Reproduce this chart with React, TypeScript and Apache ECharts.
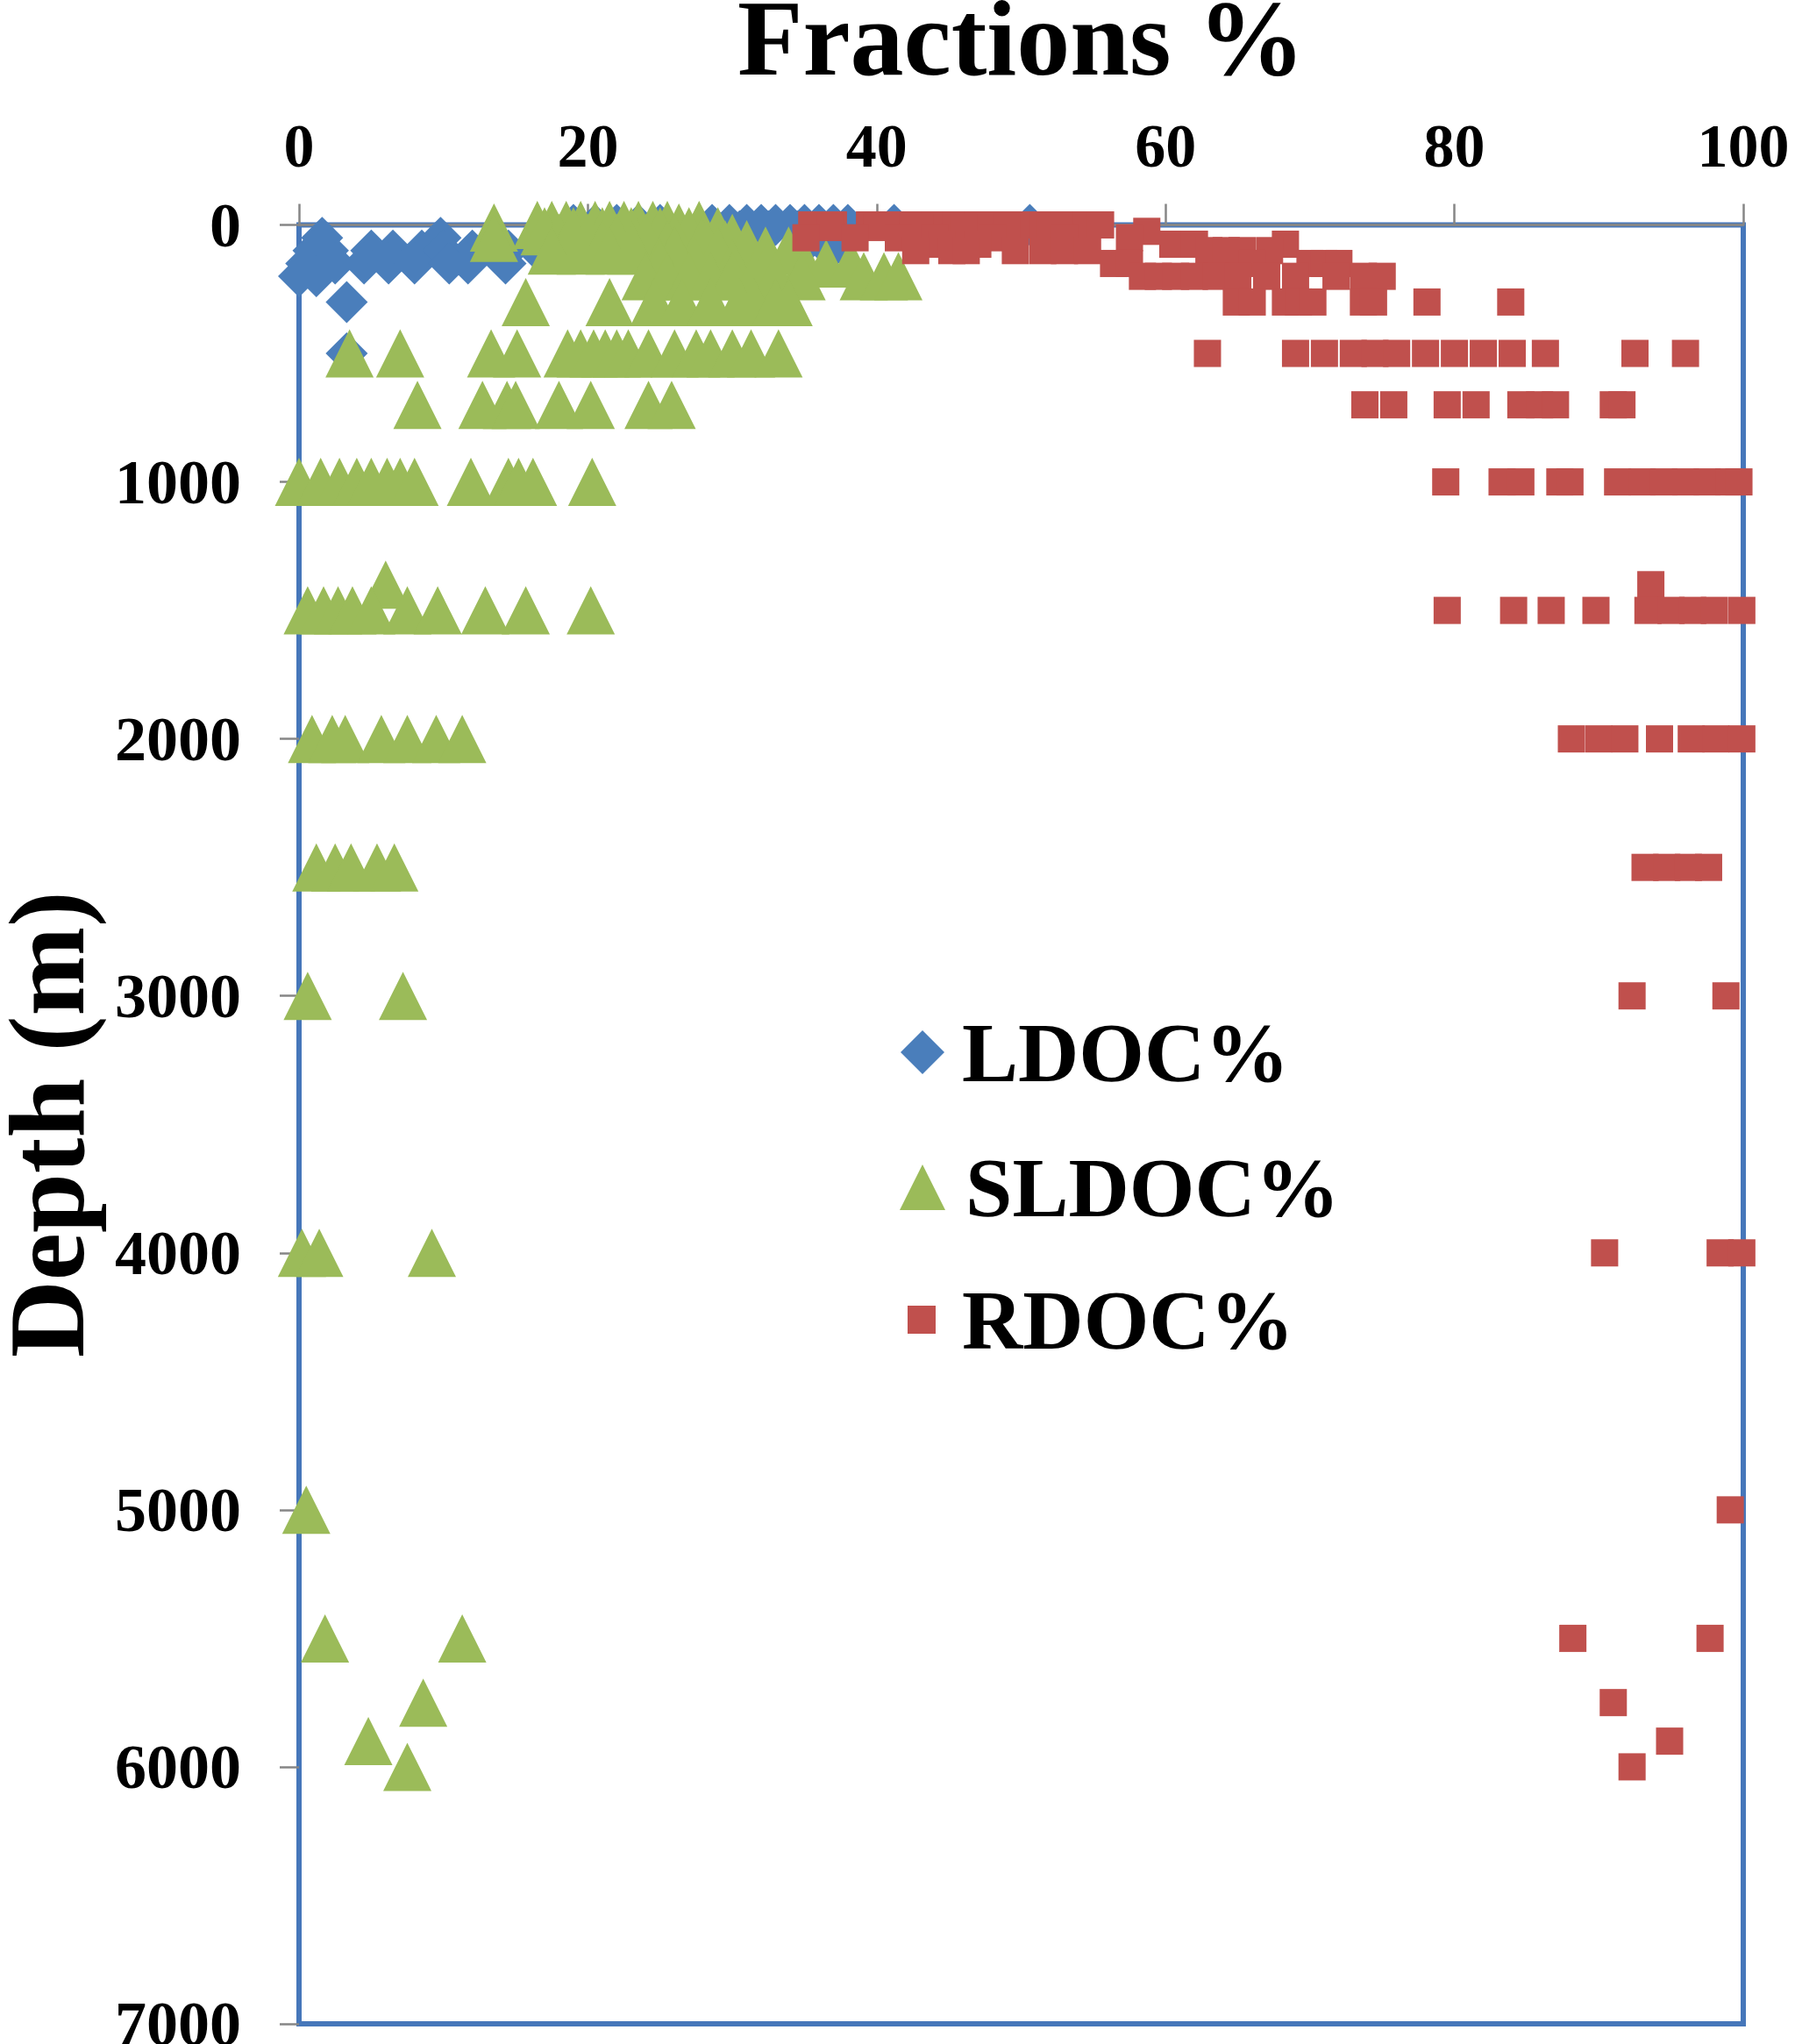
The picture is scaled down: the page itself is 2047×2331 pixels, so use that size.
import React, { useEffect, useRef } from "react";
import * as echarts from "echarts";

// Fraction (%) values, grouped by sampling depth (m)
const LDOC_ROWS: [number, number[]][] = [
  [0, [19, 20.5, 22, 23.5, 25, 28.6, 29.8, 31, 32, 33, 34, 35, 36, 37, 38, 41.2, 50.6]],
  [25, [30.5, 32.5, 34.5]],
  [50, [1.6, 9.8, 35.5, 37]],
  [100, [1, 2, 5, 6.5, 8.5, 10, 12, 14.5, 16.5, 36.8]],
  [150, [0.5, 2.5, 4.5, 6.2, 8, 10.4, 11.7, 14.3]],
  [200, [0, 1.2]],
  [300, [3.3]],
  [500, [3.3]],
];

const SLDOC_ROWS: [number, number[]][] = [
  [0, [16.5, 17.5, 18.5, 19.5, 20.5, 21.5, 22.5, 23.5, 24.5, 25.5, 27.7]],
  [10, [13.5, 26.3]],
  [25, [17, 19, 21, 23, 25, 27, 29]],
  [50, [13.5, 18, 20, 22, 24, 26, 28, 30]],
  [75, [18.5, 21, 23, 25.5, 28, 29.5, 31]],
  [100, [17.5, 19.5, 21.5, 23, 26, 29, 32.3, 33.9]],
  [150, [25, 27.5, 30, 32.5, 35, 36.5, 38.2]],
  [200, [24, 25.5, 27, 28.5, 30, 31.5, 33, 34.8, 39.1, 40.5, 41.5]],
  [300, [15.7, 21.5, 24.6, 26.5, 28.5, 30.5, 31.5, 33.0, 33.9]],
  [500, [3.5, 7.0, 13.3, 15.1, 18.6, 19.5, 20.4, 21.2, 22.0, 22.8, 24.2, 26.0, 27.5, 28.5, 30.0, 31.3, 33.2]],
  [700, [8.2, 12.7, 14.4, 15.0, 18.0, 20.2, 24.2, 25.8]],
  [1000, [0, 1.5, 2.8, 4.0, 5.0, 6.1, 7.0, 8.0, 11.9, 14.5, 15.2, 16.2, 20.3]],
  [1400, [6.0]],
  [1500, [0.6, 1.7, 2.7, 3.7, 5.0, 7.5, 9.6, 12.9, 15.7, 20.2]],
  [2000, [0.9, 2.3, 3.2, 5.7, 7.5, 9.5, 11.3]],
  [2500, [1.2, 2.5, 3.6, 5.4, 6.6]],
  [3000, [0.6, 7.2]],
  [4000, [0.2, 1.4, 9.2]],
  [5000, [0.5]],
  [5500, [1.8, 11.3]],
  [5750, [8.6]],
  [5900, [4.8]],
  [6000, [7.5]],
];

const RDOC_ROWS: [number, number[]][] = [
  [0, [35.5, 37, 39.5, 41, 42.5, 44, 45.5, 47, 48.5, 50, 51.5, 53, 54.5, 55.5]],
  [10, [36.8, 40, 43, 46, 49, 52]],
  [25, [58.7]],
  [50, [35.1, 38.5, 41.5, 44, 48, 53, 57.5]],
  [75, [44.5, 47, 60.5, 62, 68.3]],
  [100, [42.7, 45.2, 46.2, 49.6, 51.5, 53, 54.6, 63, 64.2, 65.3, 67.2]],
  [150, [56.4, 57.5, 66, 70, 71, 72]],
  [200, [58.4, 59.5, 60.7, 62, 63.5, 65, 67, 69, 71.8, 73.7, 75]],
  [300, [64.9, 66.0, 68.3, 69.2, 70.2, 73.7, 74.4, 78.1, 83.9]],
  [500, [62.9, 69, 71, 73, 74.5, 76, 78, 80, 82, 84, 86.3, 92.5, 96.0]],
  [700, [73.8, 75.8, 79.5, 81.5, 84.6, 85.9, 87.0, 91.0, 91.6]],
  [1000, [79.4, 83.3, 84.6, 87.3, 88.0, 91.3, 93.0, 94.5, 96.0, 97.5, 99.0, 99.7]],
  [1400, [93.6]],
  [1500, [79.5, 84.1, 86.7, 89.8, 93.4, 95.0, 96.5, 98.0, 99.9]],
  [2000, [88.1, 90.0, 91.8, 94.2, 96.4, 98.1, 99.9]],
  [2500, [93.2, 94.7, 96.2, 97.6]],
  [3000, [92.3, 98.8]],
  [4000, [90.4, 98.4, 99.9]],
  [5000, [99.1]],
  [5500, [88.2, 97.7]],
  [5750, [91.0]],
  [5900, [94.9]],
  [6000, [92.3]],
];

const SERIES_NAMES = ["LDOC%", "SLDOC%", "RDOC%"];
const X_RANGE = [0, 100, 20];
const Y_RANGE = [0, 7000, 1000];

const FONT = "'Liberation Serif', 'Times New Roman', serif";
const BORDER_BLUE = "#4677ba";

function flatten(rows: [number, number[]][]): [number, number][] {
  const out: [number, number][] = [];
  rows.forEach(([depth, fracs]) => fracs.forEach((f) => out.push([f, depth])));
  return out;
}

export default function App() {
  const ref = useRef<HTMLDivElement>(null);

  useEffect(() => {
    document.body.style.margin = "0";
    if (!ref.current) return;
    const chart = echarts.init(ref.current, null, { renderer: "svg" });

    const legendText = (pad: number) => ({
      fontSize: 96,
      fontWeight: "bold",
      fontFamily: FONT,
      color: "#000",
      padding: [0, 0, 0, pad],
    });

    chart.setOption({
      animation: false,
      backgroundColor: "#fff",
      grid: {
        left: 341,
        right: 59,
        top: 256.5,
        bottom: 23,
        containLabel: false,
        outerBoundsMode: "none",
        show: true,
        borderColor: BORDER_BLUE,
        borderWidth: 6,
      },
      xAxis: {
        type: "value",
        position: "top",
        min: X_RANGE[0],
        max: X_RANGE[1],
        interval: X_RANGE[2],
        name: "Fractions %",
        nameLocation: "middle",
        nameGap: 152,
        nameTextStyle: { fontSize: 122, fontWeight: "bold", fontFamily: FONT, color: "#000" },
        axisLine: { show: true, lineStyle: { color: "#868686", width: 3 } },
        axisTick: { show: true, length: 24, lineStyle: { color: "#868686", width: 2.5 } },
        axisLabel: {
          fontSize: 70,
          fontWeight: "bold",
          fontFamily: FONT,
          color: "#000",
          margin: 55,
          formatter: (v: number) => String(v),
        },
        splitLine: { show: false },
      },
      yAxis: {
        type: "value",
        inverse: true,
        min: Y_RANGE[0],
        max: Y_RANGE[1],
        interval: Y_RANGE[2],
        name: "Depth (m)",
        nameLocation: "middle",
        nameRotate: 90,
        nameGap: 227,
        nameTextStyle: { fontSize: 122, fontWeight: "bold", fontFamily: FONT, color: "#000" },
        axisLine: { show: true, lineStyle: { color: BORDER_BLUE, width: 6 } },
        axisTick: { show: true, length: 22, lineStyle: { color: "#868686", width: 2.5 } },
        axisLabel: {
          fontSize: 72,
          fontWeight: "bold",
          fontFamily: FONT,
          color: "#000",
          margin: 66,
          formatter: (v: number) => String(v),
        },
        splitLine: { show: false },
      },
      legend: [
        {
          data: [SERIES_NAMES[0]],
          orient: "vertical",
          left: 1022,
          top: 1147,
          itemWidth: 50,
          itemHeight: 50,
          selectedMode: false,
          textStyle: legendText(15),
        },
        {
          data: [SERIES_NAMES[1]],
          orient: "vertical",
          left: 1021,
          top: 1301,
          itemWidth: 52,
          itemHeight: 52,
          selectedMode: false,
          textStyle: legendText(18),
        },
        {
          data: [SERIES_NAMES[2]],
          orient: "vertical",
          left: 1030,
          top: 1452,
          itemWidth: 32,
          itemHeight: 32,
          selectedMode: false,
          textStyle: legendText(25),
        },
      ],
      series: [
        {
          name: SERIES_NAMES[0],
          type: "scatter",
          symbol: "diamond",
          symbolSize: 48,
          clip: false,
          itemStyle: { color: "#4a7ebb", opacity: 1 },
          data: flatten(LDOC_ROWS),
        },
        {
          name: SERIES_NAMES[1],
          type: "scatter",
          symbol: "triangle",
          symbolSize: [55, 55],
          clip: false,
          itemStyle: { color: "#9bbb59", opacity: 1 },
          data: flatten(SLDOC_ROWS),
        },
        {
          name: SERIES_NAMES[2],
          type: "scatter",
          symbol: "rect",
          symbolSize: 31,
          clip: false,
          itemStyle: { color: "#c0504d", opacity: 1 },
          data: flatten(RDOC_ROWS),
        },
      ],
    });

    return () => chart.dispose();
  }, []);

  return <div ref={ref} style={{ width: 2047, height: 2331 }} />;
}
